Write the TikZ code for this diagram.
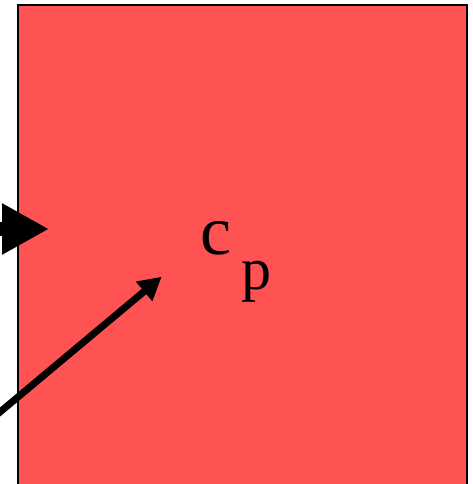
\documentclass[tikz,border=0pt]{standalone}
\usepackage{fontspec}
\setmainfont{Liberation Serif}
\usetikzlibrary{arrows.meta}
\definecolor{panelRed}{HTML}{FF5252}

\begin{document}
\begin{tikzpicture}[x=1pt, y=1pt,
  panel/.style={draw=black, fill=panelRed, line width=2pt},
  pointer/.style={-{Triangle[length=23pt, width=24pt]}, line width=7pt},
  bigpointer/.style={-{Triangle[length=47pt, width=48pt]}, line width=14pt},
  label/.style={inner sep=0pt, anchor=base west, font=\fontsize{70}{72}\selectfont}
  ]
  \useasboundingbox (0,0) rectangle (472,484);
  \clip (0,0) rectangle (472,484);

  \draw[panel] (17.7,-20) rectangle (466.5,479);

  \node[label] (cp) at (200,229)
  {c\hspace{10pt}\raisebox{-35pt}{\fontsize{60}{62}\selectfont p}};

  \coordinate (inA) at (-10,255);
  \coordinate (tipA) at (49,255);
  \coordinate (inB) at (-10,63.6);
  \coordinate (tipB) at (161.7,207.3);

  \draw[bigpointer] (inA) -- (tipA);
  \draw[pointer] (inB) -- (tipB);

\end{tikzpicture}
\end{document}
